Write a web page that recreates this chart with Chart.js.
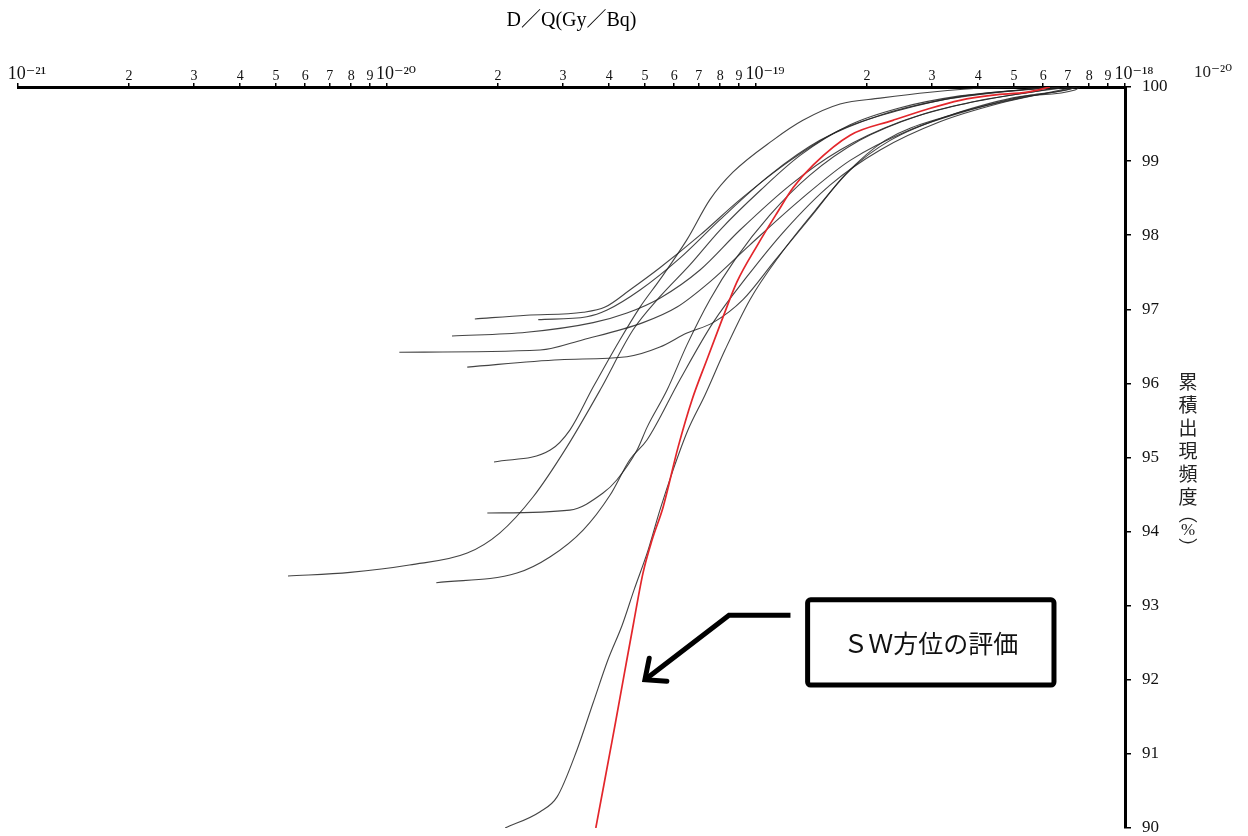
<!DOCTYPE html>
<html lang="ja">
<head>
<meta charset="utf-8">
<title>D/Q 累積出現頻度</title>
<script src="https://cdn.jsdelivr.net/npm/chart.js@4.4.1/dist/chart.umd.min.js"></script>
<style>
  html, body { margin: 0; padding: 0; background: #fff; }
  #wrap { width: 1248px; height: 836px; }
</style>
</head>
<body>
<div id="wrap"><canvas id="dqChart" width="1248" height="836"></canvas></div>
<script>
// axis ticks
const xTickValues = [
  1e-21, 2e-21, 3e-21, 4e-21, 5e-21, 6e-21, 7e-21, 8e-21, 9e-21,
  1e-20, 2e-20, 3e-20, 4e-20, 5e-20, 6e-20, 7e-20, 8e-20, 9e-20,
  1e-19, 2e-19, 3e-19, 4e-19, 5e-19, 6e-19, 7e-19, 8e-19, 9e-19,
  1e-18
];
const xTickLabels = [
  "    10⁻²¹", "2", "3", "4", "5", "6", "7", "8", "9",
  "    10⁻²⁰", "2", "3", "4", "5", "6", "7", "8", "9",
  "    10⁻¹⁹", "2", "3", "4", "5", "6", "7", "8", "9",
  "    10⁻¹⁸"
];
const yTickValues = [90, 91, 92, 93, 94, 95, 96, 97, 98, 99, 100];
const yTickLabels = ["90", "91", "92", "93", "94", "95", "96", "97", "98", "99", "100"];

// red curve (SW direction)
const dqRed = [3.68e-20, 3.87e-20, 4.03e-20, 4.16e-20, 4.40e-20, 4.66e-20, 4.94e-20, 5.23e-20, 5.60e-20, 6.15e-20, 6.71e-20, 7.36e-20, 8.09e-20, 8.88e-20, 1.01e-19, 1.14e-19, 1.26e-19, 1.43e-19, 1.80e-19, 2.35e-19, 2.91e-19, 3.57e-19, 4.39e-19, 5.43e-19, 6.26e-19];
const pctRed = [90.00, 90.58, 91.05, 91.42, 92.09, 92.77, 93.44, 93.89, 94.33, 95.14, 95.78, 96.32, 96.86, 97.37, 97.87, 98.30, 98.64, 98.95, 99.35, 99.55, 99.70, 99.82, 99.89, 99.93, 100];

// other directions
const dqA = [1.73e-20, 2.39e-20, 3.40e-20, 3.90e-20, 4.55e-20, 5.49e-20, 7.05e-20, 9.05e-20, 1.24e-19, 1.69e-19, 2.46e-19, 3.57e-19, 5.19e-19, 6.66e-19];
const pctA = [96.87, 96.92, 96.96, 97.03, 97.26, 97.56, 98.00, 98.48, 99.01, 99.42, 99.69, 99.87, 99.96, 100];

const dqB = [2.57e-20, 3.48e-20, 3.95e-20, 4.85e-20, 6.22e-20, 7.99e-20, 1.09e-19, 1.49e-19, 2.17e-19, 3.15e-19, 4.58e-19, 6.66e-19];
const pctB = [96.86, 96.90, 96.99, 97.26, 97.69, 98.21, 98.81, 99.28, 99.62, 99.82, 99.93, 100];

const dqC = [1.50e-20, 2.39e-20, 3.62e-20, 4.47e-20, 5.49e-20, 7.05e-20, 9.05e-20, 1.24e-19, 1.69e-19, 2.46e-19, 3.57e-19, 5.19e-19, 7.09e-19];
const pctC = [96.64, 96.69, 96.82, 96.95, 97.15, 97.53, 98.07, 98.68, 99.15, 99.53, 99.76, 99.91, 100];

const dqD = [1.08e-20, 2.60e-20, 3.40e-20, 4.94e-20, 6.11e-20, 7.50e-20, 9.63e-20, 1.32e-19, 1.80e-19, 2.61e-19, 3.80e-19, 5.53e-19, 7.09e-19, 7.32e-19];
const pctD = [96.42, 96.45, 96.59, 96.82, 97.03, 97.37, 97.87, 98.48, 99.01, 99.42, 99.69, 99.89, 99.97, 100];

const dqE = [1.65e-20, 2.94e-20, 4.47e-20, 5.49e-20, 6.50e-20, 7.65e-20, 9.22e-20, 1.13e-19, 1.42e-19, 1.74e-19, 2.24e-19, 3.36e-19, 5.19e-19, 7.32e-19, 7.55e-19];
const pctE = [96.22, 96.32, 96.36, 96.49, 96.68, 96.82, 97.13, 97.67, 98.27, 98.81, 99.28, 99.62, 99.87, 99.96, 100];

const dqF = [1.95e-20, 2.77e-20, 3.13e-20, 3.62e-20, 4.28e-20, 4.85e-20, 5.49e-20, 6.50e-20, 7.50e-20, 8.66e-20, 1.11e-19, 1.34e-19, 1.69e-19, 2.17e-19, 2.96e-19, 4.31e-19, 6.07e-19];
const pctF = [94.94, 95.10, 95.37, 95.95, 96.59, 97.03, 97.40, 97.94, 98.48, 98.85, 99.28, 99.55, 99.77, 99.85, 99.93, 99.99, 100];

const dqG = [1.87e-20, 3.13e-20, 3.85e-20, 4.20e-20, 4.76e-20, 5.07e-20, 5.74e-20, 6.50e-20, 7.50e-20, 8.77e-20, 1.09e-19, 1.40e-19, 1.91e-19, 2.78e-19, 4.05e-19, 5.88e-19, 6.66e-19];
const pctG = [94.25, 94.29, 94.52, 94.70, 95.10, 95.41, 95.91, 96.52, 97.13, 97.67, 98.27, 98.81, 99.28, 99.62, 99.82, 99.95, 100];

const dqH = [5.39e-21, 7.94e-21, 1.15e-20, 1.65e-20, 2.02e-20, 2.49e-20, 3.07e-20, 3.78e-20, 4.64e-20, 5.49e-20, 6.62e-20, 7.99e-20, 1.03e-19, 1.32e-19, 1.80e-19, 2.46e-19, 3.57e-19, 5.19e-19, 6.26e-19];
const pctH = [93.40, 93.45, 93.55, 93.71, 93.98, 94.47, 95.14, 95.91, 96.72, 97.17, 97.60, 98.07, 98.61, 99.08, 99.49, 99.72, 99.88, 99.96, 100];

const dqI = [1.36e-20, 2.25e-20, 2.77e-20, 3.40e-20, 4.02e-20, 4.55e-20, 5.07e-20, 6.22e-20, 7.65e-20, 9.45e-20, 1.20e-19, 1.59e-19, 2.17e-19, 3.15e-19, 4.58e-19, 6.26e-19, 7.32e-19];
const pctI = [93.31, 93.44, 93.66, 94.02, 94.49, 94.97, 95.24, 96.05, 96.82, 97.44, 98.07, 98.68, 99.15, 99.53, 99.78, 99.93, 100];

const dqJ = [2.09e-20, 2.60e-20, 2.89e-20, 3.27e-20, 3.62e-20, 3.97e-20, 4.34e-20, 4.67e-20, 5.10e-20, 5.49e-20, 5.96e-20, 6.54e-20, 7.27e-20, 8.24e-20, 9.63e-20, 1.16e-19, 1.45e-19, 1.80e-19, 2.31e-19, 3.36e-19, 5.19e-19, 6.88e-19, 7.46e-19];
const pctJ = [90.00, 90.22, 90.42, 91.05, 91.69, 92.27, 92.74, 93.21, 93.75, 94.29, 94.83, 95.37, 95.84, 96.45, 97.13, 97.73, 98.34, 98.88, 99.28, 99.62, 99.85, 99.96, 100];

// texts
const xTitle = "D／Q(Gy／Bq)";
const yTitleChars = ["累", "積", "出", "現", "頻", "度", "︵", "%", "︶"];
const noteText = "ＳＷ方位の評価";
const strayLabel = "10⁻²⁰";

const serif = "'Liberation Serif', 'DejaVu Serif', 'Noto Sans CJK JP', serif";
const cjk = "'Noto Sans CJK JP', sans-serif";

// annotation placed in data space: box, then arrow start / corner / tip
const noteBox = { x0: 1.38e-19, x1: 6.42e-19, top: 93.08, bottom: 91.93 };
const noteArrow = [[1.24e-19, 92.87], [8.45e-20, 92.87], [5.0e-20, 92.0]];

const curves = [
  { x: dqRed, y: pctRed, red: true },
  { x: dqA, y: pctA }, { x: dqB, y: pctB }, { x: dqC, y: pctC },
  { x: dqD, y: pctD }, { x: dqE, y: pctE }, { x: dqF, y: pctF },
  { x: dqG, y: pctG }, { x: dqH, y: pctH }, { x: dqI, y: pctI },
  { x: dqJ, y: pctJ }
];

const datasets = curves.map(c => ({
  data: c.x.map((v, i) => ({ x: v, y: c.y[i] })),
  showLine: true,
  borderColor: c.red ? "#e3262b" : "rgba(35,35,35,0.85)",
  borderWidth: c.red ? 1.7 : 1.1,
  pointRadius: 0,
  cubicInterpolationMode: "monotone",
  fill: false
}));

const whiteBg = {
  id: "whiteBg",
  beforeDraw(chart) {
    const ctx = chart.ctx;
    ctx.save();
    ctx.fillStyle = "#fff";
    ctx.fillRect(0, 0, chart.width, chart.height);
    ctx.restore();
  }
};

const extras = {
  id: "extras",
  afterDraw(chart) {
    const { ctx, chartArea } = chart;
    const xs = chart.scales.x, ys = chart.scales.y;
    const px = v => xs.getPixelForValue(v);
    const py = v => ys.getPixelForValue(v);
    ctx.save();

    // note box
    const bx0 = px(noteBox.x0), bx1 = px(noteBox.x1);
    const by0 = py(noteBox.top), by1 = py(noteBox.bottom);
    ctx.strokeStyle = "#000";
    ctx.lineWidth = 5;
    ctx.lineJoin = "round";
    ctx.beginPath();
    ctx.roundRect(bx0, by0, bx1 - bx0, by1 - by0, 3);
    ctx.stroke();
    ctx.fillStyle = "#111";
    ctx.font = "25px " + cjk;
    ctx.textAlign = "center";
    ctx.textBaseline = "middle";
    ctx.fillText(noteText, (bx0 + bx1) / 2, (by0 + by1) / 2 + 1);

    // arrow
    const pts = noteArrow.map(p => [px(p[0]), py(p[1])]);
    ctx.lineJoin = "miter";
    ctx.lineCap = "butt";
    ctx.beginPath();
    ctx.moveTo(pts[0][0], pts[0][1]);
    for (let i = 1; i < pts.length; i++) ctx.lineTo(pts[i][0], pts[i][1]);
    ctx.stroke();
    const tip = pts[pts.length - 1], prev = pts[pts.length - 2];
    const ang = Math.atan2(prev[1] - tip[1], prev[0] - tip[0]);
    const head = 22, spread = 0.72;
    ctx.lineCap = "round";
    ctx.beginPath();
    ctx.moveTo(tip[0] + head * Math.cos(ang - spread), tip[1] + head * Math.sin(ang - spread));
    ctx.lineTo(tip[0], tip[1]);
    ctx.lineTo(tip[0] + head * Math.cos(ang + spread), tip[1] + head * Math.sin(ang + spread));
    ctx.stroke();

    // vertical y title, one character per line
    ctx.fillStyle = "#222";
    const tx = chartArea.right + 63;
    yTitleChars.forEach((ch, i) => {
      let y;
      if (i < 6) y = 382 + i * 23;
      else y = 514 + (i - 6) * 17;
      ctx.font = (ch === "%" ? "17px " + serif : "19px " + cjk);
      ctx.fillText(ch, tx, y);
    });

    // stray label top right
    ctx.font = "17px " + serif;
    ctx.fillText(strayLabel, chartArea.right + 88, chartArea.top - 14);
    ctx.restore();
  }
};

new Chart(document.getElementById("dqChart").getContext("2d"), {
  type: "scatter",
  data: { datasets },
  options: {
    responsive: false,
    animation: false,
    layout: { padding: { left: 18, right: 0, top: 0, bottom: 8 } },
    plugins: {
      legend: { display: false },
      tooltip: { enabled: false }
    },
    scales: {
      x: {
        type: "logarithmic",
        position: "top",
        min: 1e-21,
        max: 1e-18,
        afterBuildTicks: s => { s.ticks = xTickValues.map(v => ({ value: v })); },
        afterFit: s => { s.height = 87; s.paddingLeft = 0; s.paddingRight = 0; },
        ticks: {
          autoSkip: false,
          maxRotation: 0,
          minRotation: 0,
          padding: 0,
          color: "#111",
          callback: (v, i) => xTickLabels[i],
          font: ctx => (xTickLabels[ctx.index] || "").indexOf("10") >= 0
            ? { family: serif, size: 18, lineHeight: 1 }
            : { family: serif, size: 14, lineHeight: 1 }
        },
        grid: { drawOnChartArea: false, drawTicks: true, tickLength: 4, color: "#000", lineWidth: 1.5 },
        border: { display: true, color: "#000", width: 3 },
        title: {
          display: true,
          text: xTitle,
          color: "#000",
          font: { family: serif, size: 20 },
          padding: { top: 9, bottom: 0 }
        }
      },
      y: {
        type: "linear",
        position: "right",
        min: 90,
        max: 100,
        afterBuildTicks: s => { s.ticks = yTickValues.map(v => ({ value: v })); },
        afterFit: s => { s.width = 123; s.paddingTop = 0; s.paddingBottom = 0; },
        ticks: {
          padding: 11,
          color: "#111",
          font: { family: serif, size: 17 },
          callback: (v, i) => yTickLabels[i]
        },
        grid: { drawOnChartArea: false, drawTicks: true, tickLength: 6, color: "#000", lineWidth: 1.5 },
        border: { display: true, color: "#000", width: 3 }
      }
    }
  },
  plugins: [whiteBg, extras]
});
</script>
</body>
</html>
